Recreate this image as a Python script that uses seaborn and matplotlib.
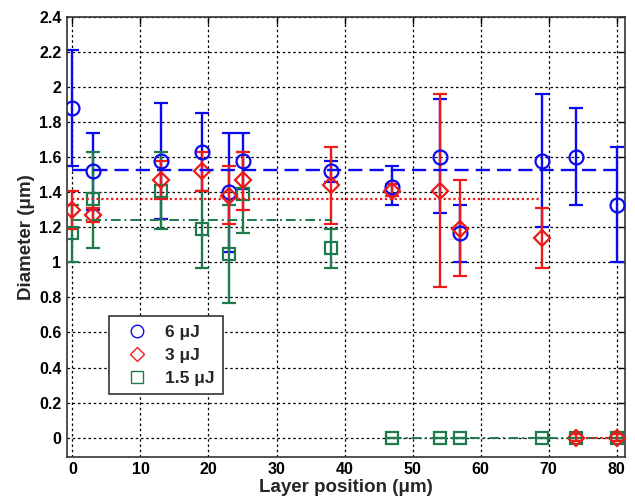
import numpy as np
import pandas as pd
import matplotlib
matplotlib.use('Agg')
import matplotlib.pyplot as plt
import seaborn as sns
from matplotlib.ticker import FormatStrFormatter

# layer positions (um)
pos_6 = [0, 3, 13, 19, 23, 25, 38, 47, 54, 57, 69, 74, 80]
d_6 = [1.88, 1.52, 1.58, 1.63, 1.40, 1.58, 1.52, 1.43, 1.60, 1.17, 1.58, 1.60, 1.33]
lo_6 = [1.55, 1.30, 1.25, 1.41, 1.06, 1.42, 1.46, 1.33, 1.28, 1.00, 1.20, 1.33, 1.00]
hi_6 = [2.21, 1.74, 1.91, 1.85, 1.74, 1.74, 1.58, 1.55, 1.93, 1.33, 1.96, 1.88, 1.66]

pos_3 = [0, 3, 13, 19, 23, 25, 38, 47, 54, 57, 69, 74, 80]
d_3 = [1.30, 1.27, 1.47, 1.52, 1.38, 1.47, 1.44, 1.41, 1.41, 1.19, 1.14, 0.0, 0.0]
lo_3 = [1.19, 1.23, 1.36, 1.41, 1.22, 1.30, 1.22, 1.38, 0.86, 0.92, 0.97, -0.02, -0.02]
hi_3 = [1.41, 1.31, 1.58, 1.63, 1.55, 1.63, 1.66, 1.45, 1.96, 1.47, 1.31, 0.02, 0.02]

pos_15 = [0, 3, 13, 19, 23, 25, 38, 47, 54, 57, 69, 74, 80]
d_15 = [1.17, 1.36, 1.41, 1.19, 1.05, 1.39, 1.08, 0.0, 0.0, 0.0, 0.0, 0.0, 0.0]
lo_15 = [1.00, 1.08, 1.19, 0.97, 0.77, 1.17, 0.97, 0.0, 0.0, 0.0, 0.0, 0.0, 0.0]
hi_15 = [1.33, 1.63, 1.63, 1.41, 1.33, 1.63, 1.19, 0.0, 0.0, 0.0, 0.0, 0.0, 0.0]

# average levels (mean lines) and their extents
mean_6, span_6 = 1.53, [0, 80]
mean_3, span_3 = 1.36, [0, 69]
zero_3 = [74, 80]
mean_15, span_15 = 1.24, [0, 38]
zero_15 = [47, 80]

labels = ['6 μJ', '3 μJ', '1.5 μJ']
colors = ['#0a0af0', '#ee1a1a', '#1f7a4c']

sns.set_style('white')
plt.rcParams['font.family'] = ['Liberation Sans', 'DejaVu Sans']
plt.rcParams['font.weight'] = 'bold'

fig = plt.figure(figsize=(6.35, 5.01), dpi=100)
ax = fig.add_axes([0.1055, 0.088, 0.8785, 0.878])

series = [
    (pos_6, d_6, lo_6, hi_6, 'o', 10, colors[0], labels[0]),
    (pos_15, d_15, lo_15, hi_15, 's', 9, colors[2], labels[2]),
    (pos_3, d_3, lo_3, hi_3, 'D', 8, colors[1], labels[1]),
]
for x, y, lo, hi, mk, ms, c, lab in series:
    y = np.array(y)
    yerr = [y - np.array(lo), np.array(hi) - y]
    ax.errorbar(x, y, yerr=yerr, fmt=mk, ms=ms, mfc='none', mec=c, mew=1.6,
                ecolor=c, elinewidth=1.7, capsize=5, capthick=1.7, zorder=3)

# mean lines
lines = pd.DataFrame({
    'x': span_6 + span_3 + zero_3 + span_15 + zero_15,
    'y': [mean_6] * 2 + [mean_3] * 2 + [0, 0] + [mean_15] * 2 + [0, 0],
    'grp': ['b'] * 2 + ['r1'] * 2 + ['r0'] * 2 + ['g1'] * 2 + ['g0'] * 2,
})
styles = {'b': (colors[0], (0, (6, 3)), 1.7), 'r1': (colors[1], (0, (1, 1.2)), 1.6),
          'r0': (colors[1], (0, (1, 1.2)), 1.6), 'g1': (colors[2], (0, (5, 2, 1, 2)), 1.4),
          'g0': (colors[2], (0, (5, 2, 1, 2)), 1.4)}
for g, sub in lines.groupby('grp'):
    c, ls, lw = styles[g]
    sns.lineplot(data=sub, x='x', y='y', ax=ax, color=c, linestyle=ls, lw=lw, zorder=4)

ax.set_xlim(-0.8, 81.2)
ax.set_ylim(-0.11, 2.4)
ax.set_xticks(np.arange(0, 81, 10))
ax.set_yticks(np.arange(0, 2.41, 0.2))
ax.yaxis.set_major_formatter(FormatStrFormatter('%g'))
ax.grid(True, color='black', linestyle=(0, (2, 2.2)), lw=0.9)
ax.tick_params(direction='in', length=5, width=1, top=True, right=True,
               labelsize=11.5, pad=4, colors='black')
for t in ax.get_xticklabels() + ax.get_yticklabels():
    t.set_fontweight('bold')
for s in ax.spines.values():
    s.set_color('#333333')
    s.set_linewidth(1.2)

ax.set_xlabel('Layer position (μm)', fontsize=13.5, fontweight='bold', labelpad=1)
ax.set_ylabel('Diameter (μm)', fontsize=13.5, fontweight='bold', labelpad=3)

leg_h = []
for lab, mk, c, ms in [(labels[0], 'o', colors[0], 9), (labels[1], 'D', colors[1], 7),
                       (labels[2], 's', colors[2], 8)]:
    leg_h.append(plt.Line2D([], [], ls='none', marker=mk, ms=ms, mfc='none', mec=c, mew=1,
                            label=lab))
leg = ax.legend(handles=leg_h, loc='upper left', bbox_to_anchor=(0.06, 0.34),
                frameon=True, fancybox=False, edgecolor='#333333', framealpha=1,
                prop={'weight': 'bold', 'size': 12.5}, handletextpad=0.5,
                borderpad=0.5, labelspacing=0.45, handlelength=2.2)
leg.get_frame().set_linewidth(1.2)

fig.savefig('out.png', dpi=100)
